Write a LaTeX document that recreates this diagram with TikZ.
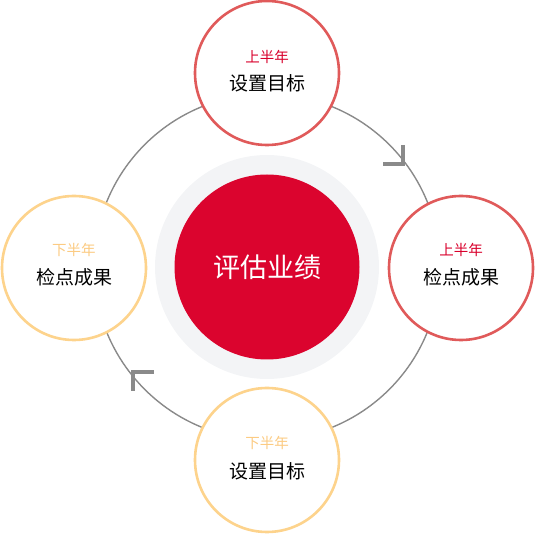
\documentclass[tikz,border=0pt]{standalone}
\usepackage{fontspec}
\newfontfamily\cjk{Noto Sans CJK SC}
\definecolor{diskgray}{HTML}{F3F4F6}
\definecolor{corered}{HTML}{DB042E}
\definecolor{redring}{HTML}{E05A5A}
\definecolor{redtext}{HTML}{D9002C}
\definecolor{yelring}{HTML}{FDD38C}
\definecolor{yeltext}{HTML}{FCCB82}
\definecolor{ringgray}{HTML}{8A8A8A}
\tikzset{
  stagecircle/.style={circle, draw, line width=2.6pt, fill=white, minimum size=144pt, inner sep=0pt},
  redstage/.style={stagecircle, draw=redring},
  yelstage/.style={stagecircle, draw=yelring},
  halflabel/.style={inner sep=0pt, font=\cjk\fontsize{14.5}{15}\selectfont},
  mainlabel/.style={inner sep=0pt, text=black, font=\cjk\fontsize{19}{20}\selectfont},
  ringline/.style={draw=ringgray, line width=1.4pt},
  turnmark/.style={draw=ringgray, line width=3.6pt, line cap=butt, line join=miter}
}
\begin{document}
\begin{tikzpicture}[x=1pt,y=-1pt]
\useasboundingbox (0,0) rectangle (536,534);
% ring
\draw[ringline] (267,267) circle (173pt);
% central disks
\node[circle, fill=diskgray, minimum size=224pt, inner sep=0pt] (halo) at (267,267) {};
\node[circle, fill=corered, minimum size=185pt, inner sep=0pt, text=white,
      font=\cjk\fontsize{27}{28}\selectfont] (core) at (267,267) {评估业绩};
% stage circles
\node[redstage] (top) at (267,73) {};
\node[redstage] (right) at (461,268) {};
\node[yelstage] (bottom) at (267,460) {};
\node[yelstage] (left) at (74,268) {};
% labels
\node[halflabel, text=redtext] (topA) at (267,57) {上半年};
\node[mainlabel] (topB) at (267,83) {设置目标};
\node[halflabel, text=redtext] (rightA) at (461,250) {上半年};
\node[mainlabel] (rightB) at (461,277) {检点成果};
\node[halflabel, text=yeltext] (bottomA) at (267,443) {下半年};
\node[mainlabel] (bottomB) at (267,471) {设置目标};
\node[halflabel, text=yeltext] (leftA) at (74,250) {下半年};
\node[mainlabel] (leftB) at (74,277) {检点成果};
% direction marks
\coordinate (markTR) at (403,164);
\coordinate (markBL) at (133,372);
\draw[turnmark] (markTR) ++(0,-19) -- (markTR) -- ++(-20,0);
\draw[turnmark] (markBL) ++(0,19) -- (markBL) -- ++(21,0);
\end{tikzpicture}
\end{document}
